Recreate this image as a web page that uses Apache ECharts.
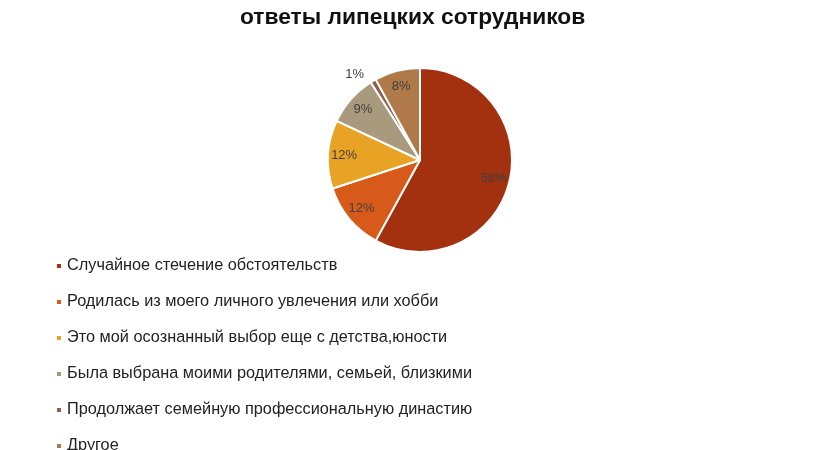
<!DOCTYPE html>
<html><head><meta charset="utf-8">
<script src="https://cdn.jsdelivr.net/npm/echarts@6/dist/echarts.min.js"></script>
<style>html,body{margin:0;padding:0;background:#fff}#c{width:840px;height:450px}</style>
</head><body><div id="c"></div>
<script>
const titleText = 'ответы липецких сотрудников';
const categories = [
  'Случайное стечение обстоятельств',
  'Родилась из моего личного увлечения или хобби',
  'Это мой осознанный выбор еще с детства,юности',
  'Была выбрана моими родителями, семьей, близкими',
  'Продолжает семейную профессиональную династию',
  'Другое'
];
const values = [58, 12, 12, 9, 1, 8];
const colors = ['#A3300F', '#D75A1A', '#E8A224', '#AA9A7D', '#8E5F4C', '#B0794A'];

const data = categories.map((n, i) => ({name: n, value: values[i], itemStyle: {color: colors[i]}}));
const labelData = categories.map((n, i) => ({
  name: n, value: values[i],
  label: values[i] < 3 ? {position: 'outside', color: '#404040'} : {position: 'inside'},
  labelLine: {show: false, length: 8, length2: 0}
}));

const chart = echarts.init(document.getElementById('c'), null, {renderer: 'canvas'});
chart.setOption({
  backgroundColor: '#fff',
  animation: false,
  title: {
    text: titleText, left: 235, top: 1,
    textStyle: {fontFamily: 'Liberation Sans', fontWeight: 'bold', fontSize: 22.8, color: '#111'}
  },
  legend: {
    orient: 'vertical', left: 50, top: 253, height: 400,
    icon: 'rect', itemWidth: 6, itemHeight: 6, itemGap: 20,
    data: categories,
    textStyle: {fontFamily: 'Liberation Sans', fontSize: 16.3, color: '#222', lineHeight: 16}
  },
  series: [{
    type: 'pie', radius: [0, 92], center: [420, 160],
    startAngle: 90, clockwise: true, silent: true,
    itemStyle: {borderColor: '#fff', borderWidth: 2},
    label: {show: false}, labelLine: {show: false},
    data: data
  }, {
    type: 'pie', radius: [54, 92], center: [420, 160],
    startAngle: 90, clockwise: true, silent: true,
    itemStyle: {color: 'rgba(0,0,0,0)', borderWidth: 0},
    label: {show: true, formatter: '{c}%', color: '#404040', fontFamily: 'Liberation Sans', fontSize: 13},
    data: labelData,
    legendHoverLink: false
  }]
});
</script></body></html>
